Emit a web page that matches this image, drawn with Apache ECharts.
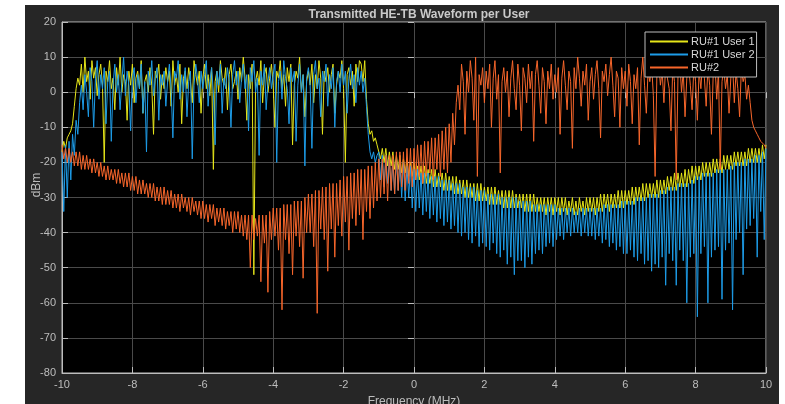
<!DOCTYPE html>
<html>
<head>
<meta charset="utf-8">
<script src="https://cdn.jsdelivr.net/npm/echarts@6/dist/echarts.min.js"></script>
<style>
  html, body { margin: 0; padding: 0; background: #fff; }
  #main { width: 785px; height: 404px; }
</style>
</head>
<body>
<div id="main"></div>
<script>
// spectrum sampled every 0.05 MHz from -10 to 10 (401 points), values in dBm
var fStart = -10;
var fStep = 0.05;

var xTicks = [-10, -8, -6, -4, -2, 0, 2, 4, 6, 8, 10];
var yTicks = [-80, -70, -60, -50, -40, -30, -20, -10, 0, 10, 20];

var seriesNames = ['RU#1 User 1', 'RU#1 User 2', 'RU#2'];
var colors = ['#e6e619', '#1d9ce8', '#f7662b'];

// RU#1 User 1 (yellow)
var user1 = [
  -17,-14,-16,-13,-12,-11,-9,-4,1,4,2,8,0,10,3,6,-2,9,4,7,
  -1,5,8,2,-20,6,3,9,1,4,-5,7,2,10,0,5,3,-8,6,2,
  8,-3,4,6,1,9,-6,3,5,0,7,2,-12,6,4,8,-2,5,1,7,
  3,6,-4,9,2,5,0,8,-9,4,6,1,7,3,-3,9,5,2,6,-6,
  4,8,1,5,-1,7,-22,3,6,0,9,4,2,7,-5,5,8,1,3,6,
  -2,7,3,10,4,-8,5,1,8,-52,3,6,2,9,-3,5,7,0,4,8,
  2,-10,6,4,9,1,5,-4,7,3,8,-15,2,6,4,10,0,5,-7,3,
  6,2,8,-3,5,1,9,4,-12,6,3,7,0,5,8,-6,2,6,4,9,
  1,-20,5,7,2,6,-4,8,3,9,8,3,9,-2,-9,-12,-11,-14,-13,-15,
  -15,-19,-16,-20,-16,-21,-17,-21,-17,-22,-18,-22,-18,-23,-19,-23,-19,-24,-20,-24,
  -20,-25,-21,-25,-21,-26,-21,-26,-22,-26,-22,-27,-22,-27,-23,-27,-23,-28,-23,-28,
  -24,-28,-24,-29,-24,-29,-25,-29,-25,-30,-25,-30,-26,-30,-26,-31,-26,-31,-26,-31,
  -27,-31,-27,-32,-27,-32,-27,-32,-28,-32,-28,-33,-28,-33,-28,-33,-28,-33,-29,-33,
  -29,-33,-29,-34,-29,-34,-29,-34,-29,-34,-30,-34,-30,-34,-30,-35,-30,-34,-30,-35,
  -30,-34,-30,-35,-30,-34,-30,-35,-31,-34,-30,-35,-31,-35,-30,-34,-31,-35,-30,-34,
  -30,-34,-30,-35,-30,-34,-29,-34,-29,-33,-29,-34,-29,-33,-29,-33,-28,-33,-28,-33,
  -28,-32,-28,-32,-27,-32,-27,-31,-27,-31,-26,-31,-26,-30,-26,-30,-26,-30,-25,-30,
  -25,-29,-25,-29,-24,-28,-24,-28,-23,-28,-23,-27,-23,-27,-22,-27,-22,-26,-21,-26,
  -21,-25,-21,-25,-20,-24,-20,-24,-20,-24,-19,-23,-19,-23,-19,-23,-18,-22,-18,-22,
  -18,-22,-17,-21,-17,-21,-17,-21,-17,-21,-16,-20,-16,-20,-16,-20,-16,-20,-15,-19,
  -15
];

// RU#1 User 2 (blue)
var user2 = [
  -17,-34,-15,-30,-14,-25,-12,-18,-8,-12,-3,2,-5,5,0,-7,7,3,-10,4,
  9,-2,5,1,7,-9,3,6,-14,2,8,0,5,-5,3,10,-1,6,2,-11,
  4,7,-3,5,1,8,-6,3,-17,6,2,9,-1,4,7,-8,5,2,6,-4,
  3,8,1,-13,6,4,9,-2,5,0,7,-7,3,6,-19,2,8,4,-3,6,
  1,5,9,-4,3,7,0,-15,6,2,8,-6,4,1,7,3,-10,5,9,2,
  6,-3,4,8,1,5,-11,7,3,9,0,4,-18,6,2,8,-5,3,7,1,
  5,8,-20,3,6,-2,9,4,1,-9,7,3,6,-14,2,8,0,5,-21,4,
  7,2,-16,5,9,1,4,-7,6,3,8,-4,5,1,7,-10,3,6,0,8,
  2,6,-6,4,8,1,5,-3,7,2,6,0,4,-4,-12,-17,-19,-17,-20,-18,
  -17,-25,-18,-27,-18,-26,-19,-28,-19,-29,-19,-28,-20,-30,-20,-31,-21,-30,-21,-33,
  -22,-34,-22,-33,-23,-35,-23,-34,-23,-36,-24,-35,-24,-37,-24,-36,-25,-38,-25,-37,
  -25,-39,-26,-38,-26,-40,-26,-41,-27,-40,-27,-42,-27,-43,-27,-41,-28,-44,-28,-43,
  -28,-44,-29,-45,-29,-43,-29,-46,-29,-47,-30,-45,-30,-49,-30,-47,-30,-52,-30,-48,
  -31,-48,-31,-50,-31,-47,-31,-49,-32,-46,-32,-45,-32,-46,-32,-44,-32,-43,-32,-44,
  -32,-42,-33,-41,-33,-42,-33,-40,-33,-41,-33,-40,-34,-40,-33,-41,-33,-40,-33,-41,
  -33,-41,-33,-42,-33,-41,-33,-43,-32,-42,-32,-44,-32,-43,-32,-45,-32,-44,-31,-46,
  -31,-46,-31,-45,-31,-47,-30,-48,-30,-46,-30,-49,-30,-48,-29,-51,-29,-49,-29,-50,
  -28,-47,-28,-55,-27,-46,-27,-48,-27,-55,-26,-45,-26,-48,-26,-60,-26,-47,-25,-46,
  -24,-64,-24,-46,-23,-44,-23,-60,-23,-47,-23,-45,-22,-44,-22,-59,-22,-45,-22,-43,
  -21,-62,-20,-42,-20,-40,-20,-52,-19,-39,-19,-38,-19,-36,-18,-47,-18,-34,-17,-42,
  -16
];

// RU#2 (orange)
var ru2 = [
  -15,-19,-16,-20,-16,-20,-17,-21,-17,-21,-17,-22,-18,-22,-18,-22,-19,-23,-19,-23,
  -20,-24,-20,-24,-21,-25,-21,-25,-22,-25,-22,-26,-22,-26,-23,-27,-23,-27,-23,-28,
  -24,-28,-24,-29,-25,-29,-25,-29,-26,-30,-26,-30,-26,-31,-27,-31,-27,-32,-27,-32,
  -28,-32,-28,-33,-29,-33,-29,-34,-29,-33,-30,-34,-30,-35,-30,-34,-31,-35,-31,-36,
  -31,-36,-32,-37,-32,-36,-32,-38,-33,-37,-33,-38,-33,-39,-34,-38,-34,-40,-34,-39,
  -34,-40,-35,-41,-35,-42,-35,-50,-35,-42,-36,-41,-35,-54,-35,-43,-35,-57,-34,-42,
  -33,-41,-33,-45,-33,-62,-32,-42,-32,-46,-32,-52,-31,-41,-31,-44,-31,-53,-30,-40,
  -29,-40,-29,-44,-28,-63,-28,-39,-27,-42,-27,-51,-26,-39,-26,-47,-26,-38,-25,-41,
  -24,-37,-24,-45,-23,-36,-23,-38,-22,-35,-22,-42,-22,-34,-21,-36,-21,-33,-20,-31,
  -19,-30,-19,-29,-18,-31,-18,-28,-18,-29,-17,-28,-17,-27,-17,-28,-16,-26,-16,-27,
  -16,-25,-15,-24,-15,-26,-14,-24,-14,-23,-13,-25,-13,-22,-12,-24,-11,-22,-10,-23,
  -9,-20,-6,-15,-3,2,-5,8,3,-12,6,0,9,4,-8,10,-24,5,2,7,
  -3,6,1,8,-10,4,9,-2,5,-23,3,7,0,6,-7,4,9,1,-5,8,
  2,-11,7,4,-3,8,1,6,-14,5,9,2,-6,7,3,-9,6,1,8,-2,
  5,0,7,-12,4,9,2,-5,6,3,-16,7,1,10,4,-4,6,2,8,-8,
  3,7,-2,5,9,1,-13,6,3,8,-1,5,10,2,-7,6,4,-10,7,1,
  6,-4,8,3,-9,5,1,7,-15,4,10,2,-6,6,3,8,-1,-24,5,9,
  2,6,-3,8,4,1,-11,7,3,-25,5,9,0,6,-7,4,8,2,-5,7,
  3,-8,6,1,9,4,-4,7,2,-12,5,8,-2,6,-22,3,7,1,5,-6,
  4,8,-3,6,1,-7,7,3,5,-2,2,-3,-8,-10,-11,-12,-13,-14,-14,-15,
  -16
];

function toPairs(values) {
  return values.map(function (v, i) {
    return [+(fStart + i * fStep).toFixed(2), v];
  });
}

var font = '"Liberation Sans", Arial, sans-serif';
var labelColor = '#bdbdbd';
var boxColor = '#bdbdbd';
var gridColor = '#4a4a4a';

var chart = echarts.init(document.getElementById('main'), null, { renderer: 'canvas' });

chart.setOption({
  animation: false,
  backgroundColor: 'transparent',
  color: colors,
  textStyle: { fontFamily: font },
  graphic: [
    {
      type: 'rect', silent: true, z: -10,
      shape: { x: 25, y: 5, width: 754, height: 399 },
      style: { fill: '#262626' }
    },
    {
      type: 'text', silent: true,
      x: 37, y: 185, rotation: Math.PI / 2,
      style: {
        text: 'dBm', fill: labelColor, font: '12px ' + font,
        align: 'center', verticalAlign: 'middle'
      }
    }
  ],
  title: {
    text: 'Transmitted HE-TB Waveform per User',
    left: 414, top: 3,
    textAlign: 'center',
    textStyle: { color: '#cacaca', fontSize: 12, fontWeight: 'bold', fontFamily: font, lineHeight: 14 }
  },
  legend: {
    data: seriesNames,
    orient: 'vertical',
    left: 645, top: 32,
    backgroundColor: '#000',
    borderColor: boxColor, borderWidth: 1, borderRadius: 0,
    padding: [4, 2, 4, 5],
    itemGap: 2,
    itemWidth: 38, itemHeight: 2,
    icon: 'rect',
    textStyle: { color: '#d8d8d8', fontSize: 11, fontFamily: font, padding: [0, 0, 0, -2] }
  },
  grid: {
    left: 62, right: 19, top: 22, bottom: 31,
    outerBoundsMode: 'none',
    show: true, backgroundColor: '#000',
    borderColor: boxColor, borderWidth: 1
  },
  xAxis: [
    {
      type: 'value', min: xTicks[0], max: xTicks[xTicks.length - 1], interval: 2,
      name: 'Frequency (MHz)', nameLocation: 'middle', nameGap: 23,
      nameTextStyle: { color: labelColor, fontSize: 12, fontFamily: font },
      axisLine: { show: true, onZero: false, lineStyle: { color: boxColor } },
      axisTick: { show: true, inside: true, length: 6, lineStyle: { color: boxColor } },
      axisLabel: { color: labelColor, fontSize: 11, margin: 6, fontFamily: font },
      splitLine: { show: true, lineStyle: { color: gridColor, width: 1 } }
    },
    {
      type: 'value', position: 'top', min: -10, max: 10, interval: 2,
      axisLine: { show: false },
      axisTick: { show: true, inside: true, length: 6, lineStyle: { color: boxColor } },
      axisLabel: { show: false },
      splitLine: { show: false }
    }
  ],
  yAxis: [
    {
      type: 'value', min: yTicks[0], max: yTicks[yTicks.length - 1], interval: 10,
      axisLine: { show: true, onZero: false, lineStyle: { color: boxColor } },
      axisTick: { show: true, inside: true, length: 6, lineStyle: { color: boxColor } },
      axisLabel: { color: labelColor, fontSize: 11, margin: 6, fontFamily: font },
      splitLine: { show: true, lineStyle: { color: gridColor, width: 1 } }
    },
    {
      type: 'value', position: 'right', min: -80, max: 20, interval: 10,
      axisLine: { show: false },
      axisTick: { show: true, inside: true, length: 6, lineStyle: { color: boxColor } },
      axisLabel: { show: false },
      splitLine: { show: false }
    }
  ],
  series: [
    {
      name: seriesNames[0], type: 'line', data: toPairs(user1),
      showSymbol: false, symbol: 'none', lineStyle: { width: 1 }, silent: true
    },
    {
      name: seriesNames[1], type: 'line', data: toPairs(user2),
      showSymbol: false, symbol: 'none', lineStyle: { width: 1 }, silent: true
    },
    {
      name: seriesNames[2], type: 'line', data: toPairs(ru2),
      showSymbol: false, symbol: 'none', lineStyle: { width: 1 }, silent: true
    }
  ]
});
</script>
</body>
</html>
